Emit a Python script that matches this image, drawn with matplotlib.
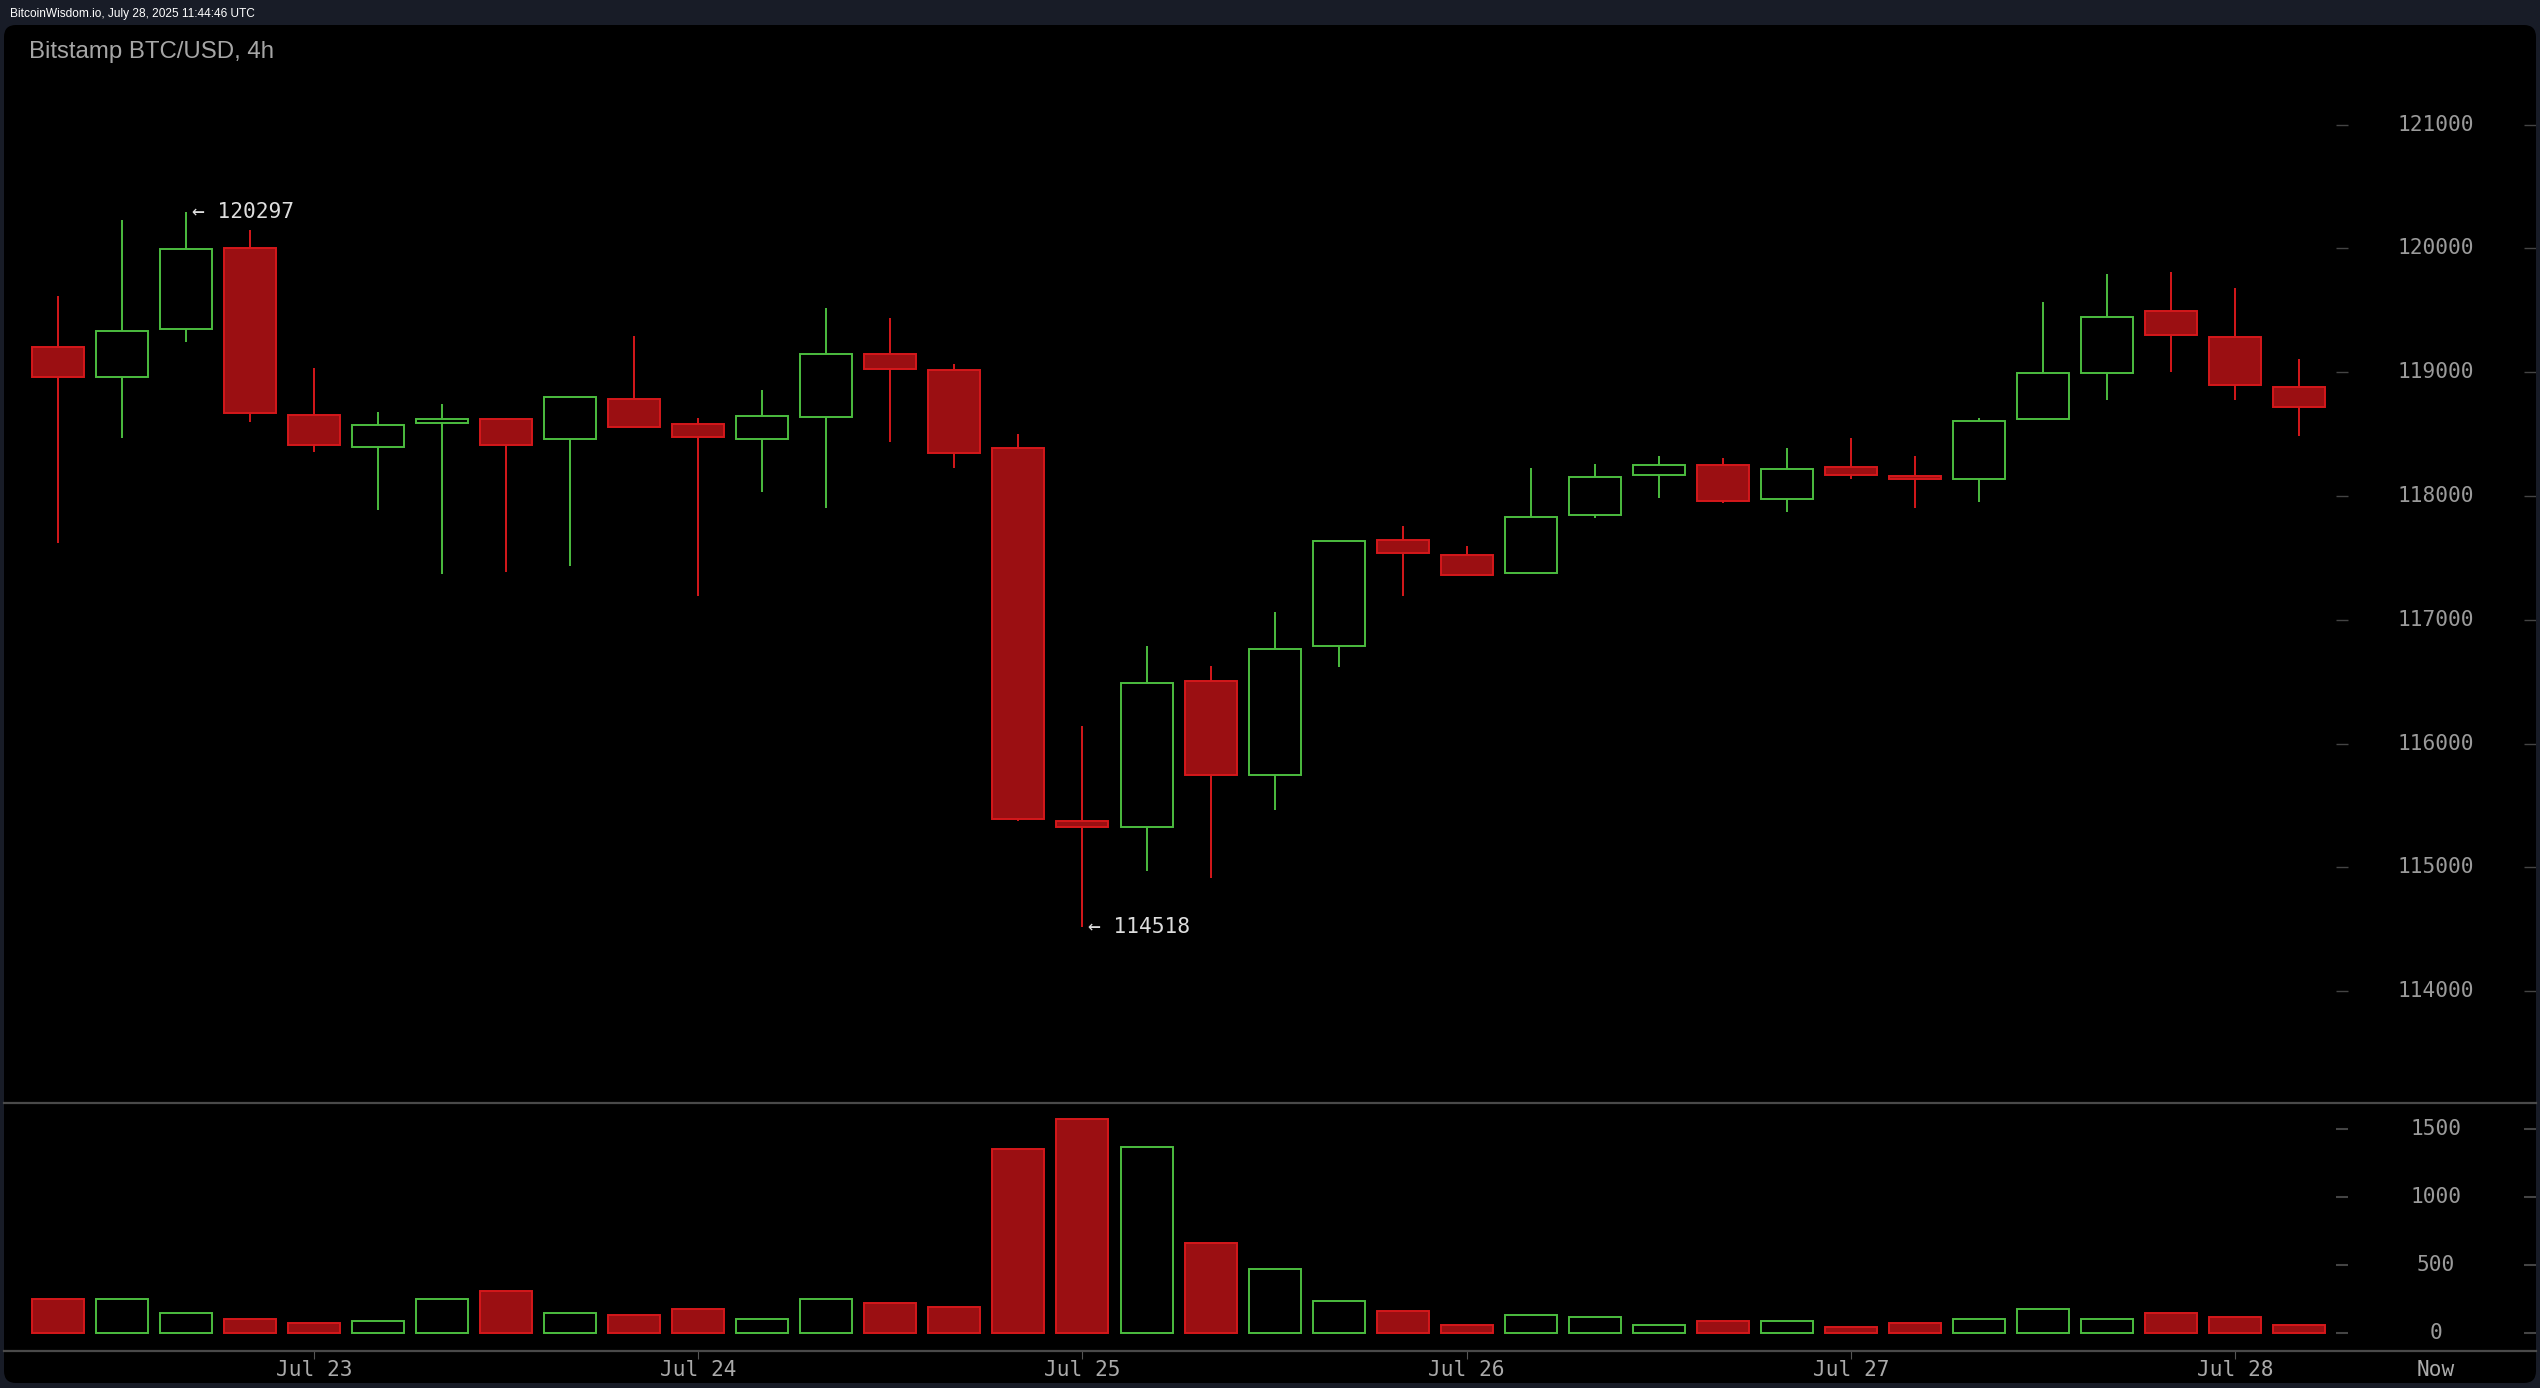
import matplotlib
matplotlib.use('Agg')
import matplotlib.pyplot as plt
import matplotlib.dates as mdates
from matplotlib.patches import FancyBboxPatch
import numpy as np
import pandas as pd

# ---------------- data ----------------
header = 'BitcoinWisdom.io, July 28, 2025 11:44:46 UTC'
title = 'Bitstamp BTC/USD, 4h'
now_label = 'Now'
start_time = '2025-07-22 08:00'

opens = [119207, 118960, 119350, 120000, 118658, 118397, 118591, 118626, 118461, 118787,
         118580, 118461, 118636, 119145, 119016, 118386, 115378, 115329, 116509, 115747,
         116786, 117645, 117527, 117376, 117847, 118168, 118254, 117974, 118238, 118160,
         118138, 118623, 118994, 119498, 119288, 118884]
highs = [119616, 120230, 120297, 120149, 119032, 118677, 118741, 118630, 118803, 119293,
         118631, 118857, 119519, 119439, 119067, 118502, 116142, 116788, 116627, 117063,
         117640, 117758, 117597, 118227, 118259, 118324, 118308, 118389, 118469, 118324,
         118628, 119568, 119794, 119810, 119681, 119110]
lows = [117618, 118472, 119247, 118601, 118359, 117890, 117373, 117390, 117438, 118558,
        117196, 118036, 117907, 118440, 118230, 115372, 114518, 114968, 114919, 115467,
        116618, 117196, 117360, 117376, 117826, 117987, 117942, 117874, 118135, 117907,
        117955, 118623, 118779, 119005, 118779, 118488]
closes = [118959, 119336, 119999, 118669, 118410, 118577, 118626, 118410, 118803, 118558,
          118475, 118644, 119145, 119024, 118345, 115392, 115329, 116491, 115747, 116768,
          117640, 117538, 117360, 117834, 118157, 118254, 117958, 118222, 118168, 118140,
          118609, 118997, 119449, 119299, 118895, 118720]
volumes = [250, 250, 147, 105, 76, 88, 250, 311, 147, 135,
           179, 105, 250, 220, 191, 1351, 1571, 1366, 661, 470,
           235, 164, 61, 132, 117, 61, 91, 88, 46, 76,
           105, 176, 105, 147, 117, 61]

price_ticks = [114000, 115000, 116000, 117000, 118000, 119000, 120000, 121000]
vol_ticks = [0, 500, 1000, 1500]

# ---------------- style ----------------
W, H, DPI = 2540, 1388, 100
BG = '#181c27'
RED_EDGE = '#d5181b'
RED_FILL = '#9b0f12'
GREEN = '#4cbd3f'
MONO = 'DejaVu Sans Mono'
SANS = 'Liberation Sans'
LABEL_SIZE = 15.2

o = np.array(opens, float)
h = np.array(highs, float)
l = np.array(lows, float)
c = np.array(closes, float)
v = np.array(volumes, float)

times = pd.date_range(start_time, periods=len(opens), freq='4h')
x = mdates.date2num(times)
step = x[1] - x[0]

up = c >= o
edge_cols = [GREEN if u else RED_EDGE for u in up]
face_cols = ['black' if u else RED_FILL for u in up]

fig = plt.figure(figsize=(W / DPI, H / DPI), dpi=DPI, facecolor=BG)


def fx(px):
    return px / W


def fy(py):
    return 1 - py / H


panel = FancyBboxPatch((fx(4), fy(1383)), fx(2536) - fx(4), fy(25) - fy(1383),
                       boxstyle='round,pad=0,rounding_size=%f' % (12 / W),
                       mutation_aspect=W / H,
                       transform=fig.transFigure, facecolor='black',
                       edgecolor='none', zorder=-10)
fig.patches.append(panel)

left_px, right_px = 4, 2536
sep_px, bot_px, top_px = 1102.7, 1351, 25

ax1 = fig.add_axes([fx(left_px), fy(sep_px), fx(right_px) - fx(left_px), fy(top_px) - fy(sep_px)])
ax2 = fig.add_axes([fx(left_px), fy(bot_px), fx(right_px) - fx(left_px), fy(sep_px) - fy(bot_px)])

pitch_px = 64.03
first_px = 58
xlim = (x[0] + (left_px - first_px) / pitch_px * step,
        x[0] + (right_px - first_px) / pitch_px * step)
bw = 52 / pitch_px * step

for ax in (ax1, ax2):
    ax.set_facecolor('none')
    ax.set_xlim(*xlim)

# price pane
ax1.set_ylim(113100, 121805)
ax1.vlines(x, l, h, colors=edge_cols, linewidth=1.4, zorder=2)
ax1.bar(x, np.abs(c - o), bottom=np.minimum(o, c), width=bw, color=face_cols,
        edgecolor=edge_cols, linewidth=1.4, zorder=3)
for s in ax1.spines.values():
    s.set_visible(False)
ax1.set_xticks([])
ax1.set_yticks([])


def ax_frac(px):
    return (px - left_px) / (right_px - left_px)


lab_x = ax_frac(2436)
ytr1 = ax1.get_yaxis_transform()
ax1.hlines(price_ticks, ax_frac(2336), ax_frac(2348), transform=ytr1, colors='#444444', linewidth=1)
ax1.hlines(price_ticks, ax_frac(2524), ax_frac(2536), transform=ytr1, colors='#444444', linewidth=1)
for p in price_ticks:
    ax1.text(lab_x, p, str(p), transform=ytr1, ha='center', va='center',
             color='#9a9a9a', fontsize=LABEL_SIZE, family=MONO)

imax = int(np.argmax(h))
imin = int(np.argmin(l))
ax1.annotate('\u2190 %d' % h[imax], xy=(x[imax], h[imax]), xytext=(6, 0),
             textcoords='offset pixels', ha='left', va='center',
             color='#dddddd', fontsize=15.3, family=MONO)
ax1.annotate('\u2190 %d' % l[imin], xy=(x[imin], l[imin]), xytext=(6, 0),
             textcoords='offset pixels', ha='left', va='center',
             color='#dddddd', fontsize=15.3, family=MONO)

# volume pane
ax2.set_ylim(-130, 1693)
ax2.bar(x, v, width=bw, color=face_cols, edgecolor=edge_cols, linewidth=1.4, zorder=3)
for k in ('left', 'right'):
    ax2.spines[k].set_visible(False)
for k in ('top', 'bottom'):
    ax2.spines[k].set_color('#4a4a4a')
    ax2.spines[k].set_linewidth(1.6)
ax2.set_yticks([])
ax2.xaxis.set_major_locator(mdates.DayLocator())
ax2.xaxis.set_major_formatter(mdates.DateFormatter('%b %d'))
ax2.tick_params(axis='x', direction='out', length=5.8, width=0.8, color='#555555',
                labelcolor='#aaaaaa', labelsize=LABEL_SIZE, pad=1)
for t in ax2.get_xticklabels():
    t.set_family(MONO)
ax2.set_xlim(*xlim)

ytr2 = ax2.get_yaxis_transform()
ax2.hlines(vol_ticks, ax_frac(2336), ax_frac(2348), transform=ytr2, colors='#444444', linewidth=1.5)
ax2.hlines(vol_ticks, ax_frac(2524), ax_frac(2536), transform=ytr2, colors='#444444', linewidth=1.5)
for q in vol_ticks:
    ax2.text(lab_x, q, str(q), transform=ytr2, ha='center', va='center',
             color='#9a9a9a', fontsize=LABEL_SIZE, family=MONO)
ax2.annotate(now_label, xy=(lab_x, 0), xycoords='axes fraction',
             xytext=(0, -9), textcoords='offset pixels', ha='center', va='top',
             color='#aaaaaa', fontsize=LABEL_SIZE, family=MONO)

# header and title
fig.text(fx(10), fy(14), header, ha='left', va='center', color='white',
         fontsize=8.6, family=SANS)
fig.text(fx(29), fy(52), title, ha='left', va='center', color='#a6a6a6',
         fontsize=17.3, family=SANS)

fig.savefig('out.png', dpi=DPI, facecolor=BG)
